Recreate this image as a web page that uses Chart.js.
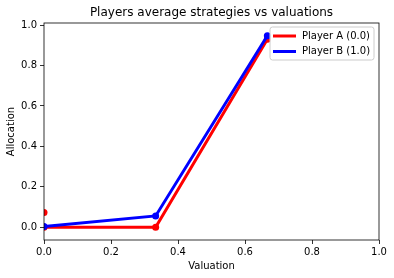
<!DOCTYPE html>
<html><head><meta charset="utf-8">
<script src="https://cdn.jsdelivr.net/npm/chart.js@4/dist/chart.umd.min.js"></script>
<style>html,body{margin:0;padding:0;background:#fff}#wrap{width:394px;height:278px}</style>
</head><body><div id="wrap"><canvas id="c" width="394" height="278"></canvas></div>
<script>
const valuations = [0, 0.3333, 0.6667];
const playerA = [0.0, 0.0, 0.93];
const playerB = [0.004, 0.056, 0.947];
const extraX = [0.0];
const extraY = [0.073];
const xTicks = [0, 0.2, 0.4, 0.6, 0.8, 1.0];
const yTicks = [0, 0.2, 0.4, 0.6, 0.8, 1.0];
const labels = ['Player A (0.0)', 'Player B (1.0)'];
const titleText = 'Players average strategies vs valuations';
const xLabel = 'Valuation';
const yLabel = 'Allocation';

const FONT = '"DejaVu Sans", sans-serif';
const pts = (xs, ys) => xs.map((x, i) => ({x: x, y: ys[i]}));

const deco = {
  id: 'deco',
  afterDatasetsDraw(chart) {
    const ctx = chart.ctx, a = chart.chartArea;
    ctx.save();
    ctx.strokeStyle = '#000'; ctx.lineWidth = 0.8;
    ctx.strokeRect(a.left, a.top, a.right - a.left, a.bottom - a.top);
    // legend
    const lx = 270, ly = 27, lw = 104, lh = 33, r = 2.5;
    ctx.beginPath();
    ctx.moveTo(lx + r, ly); ctx.lineTo(lx + lw - r, ly); ctx.arcTo(lx + lw, ly, lx + lw, ly + r, r);
    ctx.lineTo(lx + lw, ly + lh - r); ctx.arcTo(lx + lw, ly + lh, lx + lw - r, ly + lh, r);
    ctx.lineTo(lx + r, ly + lh); ctx.arcTo(lx, ly + lh, lx, ly + lh - r, r);
    ctx.lineTo(lx, ly + r); ctx.arcTo(lx, ly, lx + r, ly, r); ctx.closePath();
    ctx.fillStyle = 'rgba(255,255,255,0.8)'; ctx.fill();
    ctx.strokeStyle = '#cccccc'; ctx.lineWidth = 1; ctx.stroke();
    const cols = ['#ff0000', '#0000ff'];
    ctx.font = '10px ' + FONT; ctx.textBaseline = 'middle'; ctx.textAlign = 'left';
    [36, 51.5].forEach((yy, i) => {
      ctx.strokeStyle = cols[i]; ctx.lineWidth = 3; ctx.lineCap = 'butt';
      ctx.beginPath(); ctx.moveTo(273, yy); ctx.lineTo(296, yy); ctx.stroke();
      ctx.fillStyle = '#000'; ctx.fillText(labels[i], 302, yy);
    });
    // title & axis labels
    ctx.fillStyle = '#000'; ctx.textAlign = 'center';
    ctx.font = '12px ' + FONT;
    ctx.fillText(titleText, (a.left + a.right) / 2, 13);
    ctx.font = '10px ' + FONT;
    ctx.fillText(xLabel, (a.left + a.right) / 2, 266);
    ctx.translate(11, (a.top + a.bottom) / 2); ctx.rotate(-Math.PI / 2);
    ctx.fillText(yLabel, 0, 0);
    ctx.restore();
  }
};

new Chart(document.getElementById('c'), {
  type: 'line',
  data: {
    datasets: [
      {label: labels[1], data: pts(valuations, playerB), borderColor: '#0000ff', backgroundColor: '#0000ff',
       borderWidth: 3, pointRadius: 3.5, pointBorderWidth: 0, order: 0, clip: 0},
      {label: labels[0], data: pts(valuations, playerA), borderColor: '#ff0000', backgroundColor: '#ff0000',
       borderWidth: 3, pointRadius: 3.5, pointBorderWidth: 0, order: 1, clip: 0},
      {label: 'extra', data: pts(extraX, extraY), showLine: false, borderColor: '#ff0000', backgroundColor: '#ff0000',
       pointRadius: 3.5, pointBorderWidth: 0, order: 2, clip: 0}
    ]
  },
  options: {
    responsive: false, animation: false, devicePixelRatio: 1,
    layout: {padding: {top: 23, right: 15, left: 0, bottom: 0}},
    plugins: {legend: {display: false}, title: {display: false}, tooltip: {enabled: false}},
    elements: {line: {tension: 0}},
    scales: {
      x: {
        type: 'linear', min: 0, max: 1,
        afterFit: s => { s.height = 38; },
        afterBuildTicks: s => { s.ticks = xTicks.map(v => ({value: v})); },
        grid: {drawOnChartArea: false, tickLength: 4, color: '#000', tickWidth: 0.8},
        border: {display: false},
        ticks: {color: '#000', font: {family: FONT, size: 10}, padding: 2, maxRotation: 0,
                callback: v => v.toFixed(1)}
      },
      y: {
        type: 'linear', min: -0.063, max: 1.01,
        afterFit: s => { s.width = 44; },
        afterBuildTicks: s => { s.ticks = yTicks.map(v => ({value: v})); },
        grid: {drawOnChartArea: false, tickLength: 4, color: '#000', tickWidth: 0.8},
        border: {display: false},
        ticks: {color: '#000', font: {family: FONT, size: 10}, padding: 3,
                callback: v => v.toFixed(1)}
      }
    }
  },
  plugins: [deco]
});
</script></body></html>
